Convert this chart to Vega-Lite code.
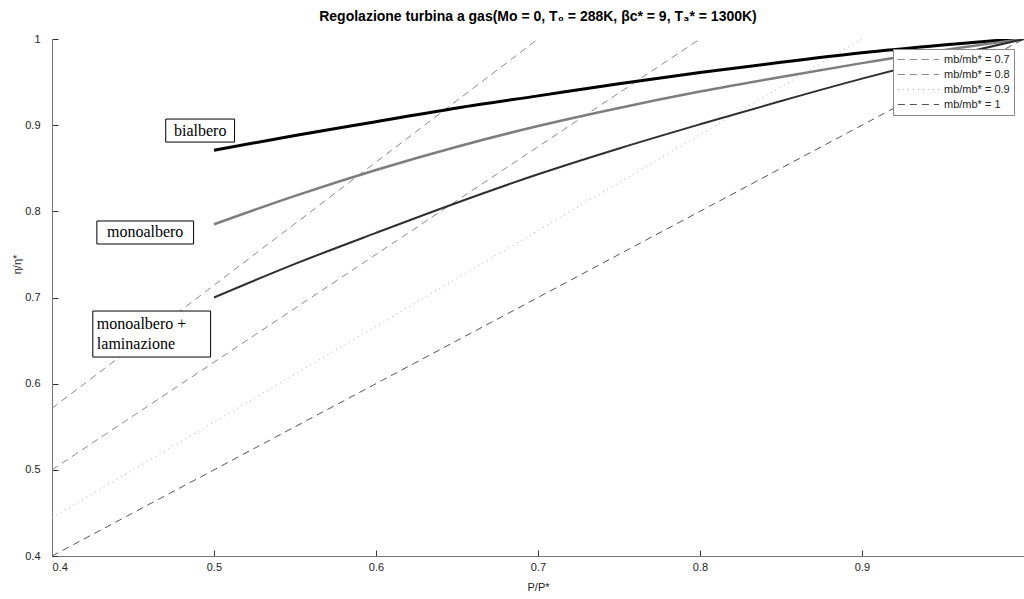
{
  "$schema": "https://vega.github.io/schema/vega-lite/v6.json",
  "width": 972,
  "height": 517,
  "autosize": {"type": "none"},
  "padding": {"left": 52, "top": 39, "right": 0, "bottom": 43},
  "background": "white",
  "title": {
    "text": "Regolazione turbina a gas(Mo = 0, T₀ = 288K, βc* = 9, T₃* = 1300K)",
    "font": "Liberation Sans Narrow, Liberation Sans",
    "fontSize": 14,
    "fontWeight": "bold",
    "color": "#000",
    "anchor": "middle",
    "offset": 9
  },
  "datasets": {
    "curves": [
      {"curve": "bialbero", "p": 0.5, "eta": 0.871},
      {"curve": "bialbero", "p": 0.55, "eta": 0.888},
      {"curve": "bialbero", "p": 0.6, "eta": 0.904},
      {"curve": "bialbero", "p": 0.65, "eta": 0.92},
      {"curve": "bialbero", "p": 0.7, "eta": 0.934},
      {"curve": "bialbero", "p": 0.75, "eta": 0.948},
      {"curve": "bialbero", "p": 0.8, "eta": 0.961},
      {"curve": "bialbero", "p": 0.85, "eta": 0.973},
      {"curve": "bialbero", "p": 0.9, "eta": 0.984},
      {"curve": "bialbero", "p": 0.95, "eta": 0.993},
      {"curve": "bialbero", "p": 1.0, "eta": 1.001},
      {"curve": "monoalbero", "p": 0.5, "eta": 0.785},
      {"curve": "monoalbero", "p": 0.55, "eta": 0.818},
      {"curve": "monoalbero", "p": 0.6, "eta": 0.848},
      {"curve": "monoalbero", "p": 0.65, "eta": 0.875},
      {"curve": "monoalbero", "p": 0.7, "eta": 0.899},
      {"curve": "monoalbero", "p": 0.75, "eta": 0.92},
      {"curve": "monoalbero", "p": 0.8, "eta": 0.939},
      {"curve": "monoalbero", "p": 0.85, "eta": 0.956},
      {"curve": "monoalbero", "p": 0.9, "eta": 0.972},
      {"curve": "monoalbero", "p": 0.95, "eta": 0.987},
      {"curve": "monoalbero", "p": 1.0, "eta": 1.0},
      {"curve": "laminazione", "p": 0.5, "eta": 0.7},
      {"curve": "laminazione", "p": 0.55, "eta": 0.739},
      {"curve": "laminazione", "p": 0.6, "eta": 0.775},
      {"curve": "laminazione", "p": 0.65, "eta": 0.81},
      {"curve": "laminazione", "p": 0.7, "eta": 0.843},
      {"curve": "laminazione", "p": 0.75, "eta": 0.873},
      {"curve": "laminazione", "p": 0.8, "eta": 0.901},
      {"curve": "laminazione", "p": 0.85, "eta": 0.928},
      {"curve": "laminazione", "p": 0.9, "eta": 0.954},
      {"curve": "laminazione", "p": 0.95, "eta": 0.978},
      {"curve": "laminazione", "p": 1.0, "eta": 1.0}
    ],
    "mblines": [
      {"mb": "mb/mb* = 0.7", "p": 0.4, "eta": 0.5714},
      {"mb": "mb/mb* = 0.7", "p": 0.7, "eta": 1.0},
      {"mb": "mb/mb* = 0.8", "p": 0.4, "eta": 0.5},
      {"mb": "mb/mb* = 0.8", "p": 0.8, "eta": 1.0},
      {"mb": "mb/mb* = 0.9", "p": 0.4, "eta": 0.4444},
      {"mb": "mb/mb* = 0.9", "p": 0.9, "eta": 1.0},
      {"mb": "mb/mb* = 1", "p": 0.4, "eta": 0.4},
      {"mb": "mb/mb* = 1", "p": 1.0, "eta": 1.0}
    ],
    "boxes": [
      {"name": "bialbero", "x1": 0.4702, "x2": 0.5127, "y1": 0.8804, "y2": 0.9071},
      {"name": "monoalbero", "x1": 0.4277, "x2": 0.4874, "y1": 0.7621, "y2": 0.7888},
      {"name": "laminazione", "x1": 0.4252, "x2": 0.4979, "y1": 0.6309, "y2": 0.6843}
    ],
    "labels": [
      {"label": "bialbero", "x": 0.4915, "y": 0.8935, "pos": "c"},
      {"label": "monoalbero", "x": 0.4575, "y": 0.7755, "pos": "c"},
      {"label": "monoalbero +", "x": 0.4277, "y": 0.6695, "pos": "l"},
      {"label": "laminazione", "x": 0.4277, "y": 0.6455, "pos": "l"}
    ]
  },
  "encoding": {
    "x": {
      "field": "p",
      "type": "quantitative",
      "scale": {"domain": [0.4, 1.0], "nice": false, "zero": false},
      "axis": {
        "title": "P/P*",
        "values": [0.4, 0.5, 0.6, 0.7, 0.8, 0.9],
        "format": ".1~f",
        "grid": false,
        "domainColor": "#777",
        "tickColor": "#333",
        "tickSize": -6,
        "labelPadding": 11,
        "labelFont": "Liberation Sans",
        "labelFontSize": 11,
        "labelColor": "#222",
        "titleFont": "Liberation Sans",
        "titleFontSize": 11,
        "titleFontWeight": "normal",
        "titleColor": "#222",
        "titlePadding": 9
      }
    },
    "y": {
      "field": "eta",
      "type": "quantitative",
      "scale": {"domain": [0.4, 1.0], "nice": false, "zero": false},
      "axis": {
        "title": "η/η*",
        "values": [0.4, 0.5, 0.6, 0.7, 0.8, 0.9, 1.0],
        "format": ".1~f",
        "grid": false,
        "domainColor": "#777",
        "tickColor": "#333",
        "tickSize": -6,
        "labelPadding": 18,
        "labelFont": "Liberation Sans",
        "labelFontSize": 11,
        "labelColor": "#222",
        "titleFont": "Liberation Sans",
        "titleFontSize": 11,
        "titleFontWeight": "normal",
        "titleColor": "#222",
        "titlePadding": 2,
        "titleY": 225
      }
    }
  },
  "layer": [
    {
      "data": {"name": "mblines"},
      "mark": {"type": "line", "strokeWidth": 1, "clip": true},
      "encoding": {
        "detail": {"field": "mb"},
        "color": {
          "field": "mb",
          "type": "nominal",
          "scale": {
            "domain": ["mb/mb* = 0.7", "mb/mb* = 0.8", "mb/mb* = 0.9", "mb/mb* = 1"],
            "range": ["#8a8a8a", "#8a8a8a", "#aaaaaa", "#555555"]
          },
          "legend": {
            "title": null,
            "orient": "top-right",
            "offset": 10,
            "fillColor": "white",
            "strokeColor": "#888",
            "padding": 4,
            "rowPadding": 2,
            "clipHeight": 13,
            "symbolType": "stroke",
            "symbolSize": 1700,
            "symbolStrokeWidth": 1,
            "labelFont": "Liberation Sans",
            "labelFontSize": 11,
            "labelColor": "#222",
            "labelOffset": 4
          }
        },
        "strokeDash": {
          "field": "mb",
          "type": "nominal",
          "scale": {
            "domain": ["mb/mb* = 0.7", "mb/mb* = 0.8", "mb/mb* = 0.9", "mb/mb* = 1"],
            "range": [[7, 5], [7, 5], [1, 4], [7, 5]]
          },
          "legend": {
            "title": null,
            "orient": "top-right",
            "offset": 10,
            "fillColor": "white",
            "strokeColor": "#888",
            "padding": 4,
            "rowPadding": 2,
            "clipHeight": 13,
            "symbolType": "stroke",
            "symbolSize": 1700,
            "symbolStrokeWidth": 1,
            "labelFont": "Liberation Sans",
            "labelFontSize": 11,
            "labelColor": "#222",
            "labelOffset": 4
          }
        }
      }
    },
    {
      "data": {"name": "curves"},
      "mark": {"type": "line", "interpolate": "monotone", "clip": true},
      "encoding": {
        "detail": {"field": "curve"},
        "stroke": {
          "field": "curve",
          "type": "nominal",
          "scale": {"domain": ["bialbero", "monoalbero", "laminazione"], "range": ["#000000", "#7d7d7d", "#2e2e2e"]},
          "legend": null
        },
        "strokeWidth": {
          "field": "curve",
          "type": "ordinal",
          "scale": {"domain": ["bialbero", "monoalbero", "laminazione"], "range": [3, 2, 2]},
          "legend": null
        }
      }
    },
    {
      "data": {"name": "boxes"},
      "mark": {"type": "rect", "fill": "white", "stroke": "#000", "strokeWidth": 1},
      "encoding": {
        "x": {"field": "x1", "type": "quantitative"},
        "x2": {"field": "x2"},
        "y": {"field": "y1", "type": "quantitative"},
        "y2": {"field": "y2"}
      }
    },
    {
      "data": {"name": "labels"},
      "transform": [{"filter": "datum.pos === 'c'"}],
      "mark": {"type": "text", "font": "Liberation Serif", "fontSize": 16, "color": "#000", "align": "center", "baseline": "middle"},
      "encoding": {
        "x": {"field": "x", "type": "quantitative"},
        "y": {"field": "y", "type": "quantitative"},
        "text": {"field": "label"}
      }
    },
    {
      "data": {"name": "labels"},
      "transform": [{"filter": "datum.pos === 'l'"}],
      "mark": {"type": "text", "font": "Liberation Serif", "fontSize": 16, "color": "#000", "align": "left", "baseline": "middle"},
      "encoding": {
        "x": {"field": "x", "type": "quantitative"},
        "y": {"field": "y", "type": "quantitative"},
        "text": {"field": "label"}
      }
    }
  ],
  "config": {
    "view": {"stroke": null},
    "axis": {"domainWidth": 1}
  }
}
